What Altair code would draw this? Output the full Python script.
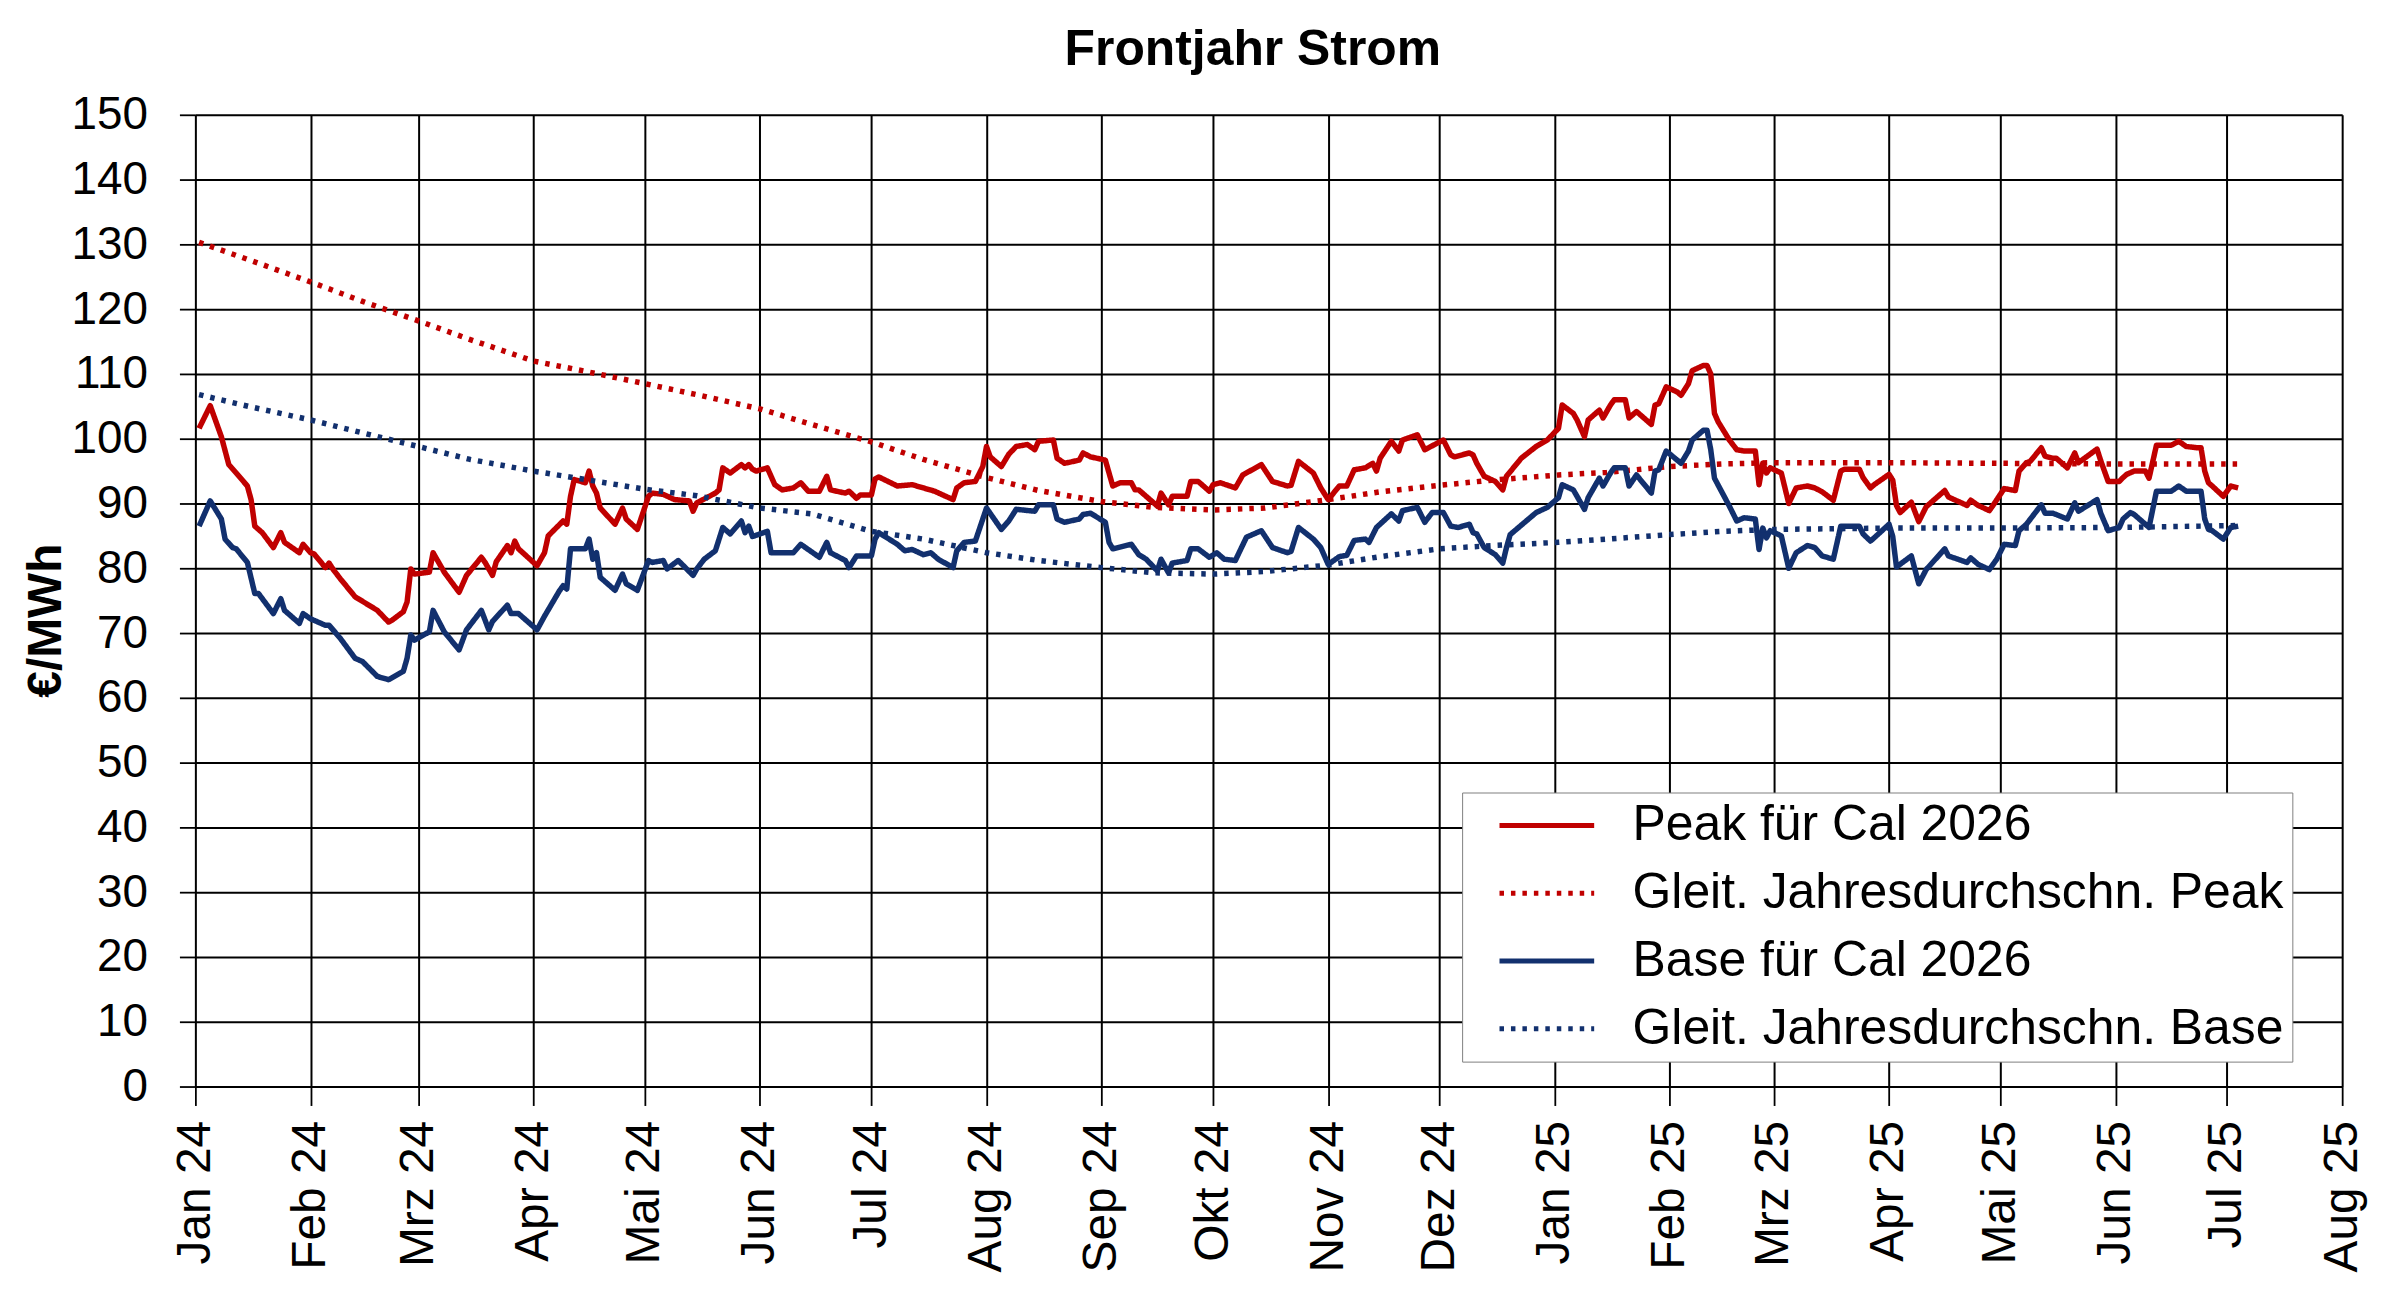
import json
import altair as alt
import pandas as pd

# ---------------- data ----------------
month_names = ["Jan", "Feb", "Mrz", "Apr", "Mai", "Jun", "Jul", "Aug", "Sep", "Okt", "Nov", "Dez"]

series_names = [
    "Peak für Cal 2026",
    "Gleit. Jahresdurchschn. Peak",
    "Base für Cal 2026",
    "Gleit. Jahresdurchschn. Base",
]

peak = [
    ("2024-01-02", 101.6), ("2024-01-05", 105.1), ("2024-01-08", 100.3), ("2024-01-10", 96.0),
    ("2024-01-12", 94.7), ("2024-01-15", 92.7), ("2024-01-16", 90.6), ("2024-01-17", 86.5),
    ("2024-01-19", 85.5), ("2024-01-22", 83.2), ("2024-01-24", 85.5), ("2024-01-25", 84.0),
    ("2024-01-29", 82.4), ("2024-01-30", 83.7), ("2024-02-01", 82.4), ("2024-02-02", 82.2),
    ("2024-02-05", 80.1), ("2024-02-06", 80.8), ("2024-02-07", 79.9), ("2024-02-09", 78.4),
    ("2024-02-13", 75.6), ("2024-02-19", 73.5), ("2024-02-22", 71.7), ("2024-02-23", 72.0),
    ("2024-02-26", 73.3), ("2024-02-27", 74.8), ("2024-02-28", 79.9), ("2024-02-29", 79.1),
    ("2024-03-04", 79.4), ("2024-03-05", 82.4), ("2024-03-08", 79.4), ("2024-03-12", 76.3),
    ("2024-03-14", 78.9), ("2024-03-18", 81.7), ("2024-03-19", 80.9), ("2024-03-21", 78.9),
    ("2024-03-22", 81.0), ("2024-03-25", 83.5), ("2024-03-26", 82.4), ("2024-03-27", 84.2),
    ("2024-03-28", 83.0), ("2024-04-02", 80.4), ("2024-04-04", 82.4), ("2024-04-05", 85.0),
    ("2024-04-09", 87.3), ("2024-04-10", 86.8), ("2024-04-11", 91.1), ("2024-04-12", 93.7),
    ("2024-04-15", 93.2), ("2024-04-16", 95.0), ("2024-04-17", 92.7), ("2024-04-18", 91.6),
    ("2024-04-19", 89.3), ("2024-04-23", 86.8), ("2024-04-25", 89.3), ("2024-04-26", 87.6),
    ("2024-04-29", 86.0), ("2024-05-02", 91.1), ("2024-05-03", 91.6), ("2024-05-06", 91.4),
    ("2024-05-09", 90.6), ("2024-05-13", 90.4), ("2024-05-14", 88.8), ("2024-05-15", 90.1),
    ("2024-05-20", 91.6), ("2024-05-21", 92.1), ("2024-05-22", 95.5), ("2024-05-24", 94.7),
    ("2024-05-27", 96.0), ("2024-05-28", 95.5), ("2024-05-29", 96.0), ("2024-05-30", 95.3),
    ("2024-05-31", 95.0), ("2024-06-03", 95.5), ("2024-06-05", 92.9), ("2024-06-07", 92.1),
    ("2024-06-10", 92.4), ("2024-06-12", 93.2), ("2024-06-14", 91.9), ("2024-06-17", 91.9),
    ("2024-06-19", 94.2), ("2024-06-20", 92.1), ("2024-06-24", 91.6), ("2024-06-25", 91.9),
    ("2024-06-27", 90.8), ("2024-06-28", 91.3), ("2024-07-01", 91.3), ("2024-07-02", 93.8),
    ("2024-07-03", 94.1), ("2024-07-08", 92.7), ("2024-07-12", 92.9), ("2024-07-15", 92.4),
    ("2024-07-18", 91.9), ("2024-07-23", 90.6), ("2024-07-24", 92.4), ("2024-07-26", 93.2),
    ("2024-07-29", 93.4), ("2024-07-31", 95.7), ("2024-08-01", 98.8), ("2024-08-02", 97.2),
    ("2024-08-05", 95.7), ("2024-08-07", 97.6), ("2024-08-09", 98.8), ("2024-08-12", 99.1),
    ("2024-08-14", 98.3), ("2024-08-15", 99.6), ("2024-08-19", 99.8), ("2024-08-20", 97.0),
    ("2024-08-22", 96.2), ("2024-08-26", 96.7), ("2024-08-27", 97.8), ("2024-08-29", 97.2),
    ("2024-09-02", 96.7), ("2024-09-03", 94.7), ("2024-09-04", 92.7), ("2024-09-06", 93.2),
    ("2024-09-09", 93.2), ("2024-09-10", 92.1), ("2024-09-11", 92.1), ("2024-09-13", 91.1),
    ("2024-09-16", 89.6), ("2024-09-17", 91.6), ("2024-09-19", 89.8), ("2024-09-20", 91.1),
    ("2024-09-24", 91.1), ("2024-09-25", 93.4), ("2024-09-27", 93.4), ("2024-09-30", 91.9),
    ("2024-10-01", 92.9), ("2024-10-03", 93.2), ("2024-10-07", 92.4), ("2024-10-09", 94.4),
    ("2024-10-14", 96.0), ("2024-10-17", 93.4), ("2024-10-21", 92.7), ("2024-10-22", 92.8),
    ("2024-10-24", 96.5), ("2024-10-28", 94.7), ("2024-10-30", 92.4), ("2024-11-01", 90.6),
    ("2024-11-04", 92.7), ("2024-11-06", 92.7), ("2024-11-08", 95.2), ("2024-11-11", 95.5),
    ("2024-11-13", 96.2), ("2024-11-14", 95.0), ("2024-11-15", 97.0), ("2024-11-18", 99.6),
    ("2024-11-20", 98.1), ("2024-11-21", 99.8), ("2024-11-25", 100.6), ("2024-11-27", 98.3),
    ("2024-12-02", 99.8), ("2024-12-04", 97.5), ("2024-12-05", 97.2), ("2024-12-09", 97.8),
    ("2024-12-10", 97.5), ("2024-12-11", 96.2), ("2024-12-13", 94.2), ("2024-12-16", 93.4),
    ("2024-12-18", 92.1), ("2024-12-19", 94.2), ("2024-12-23", 97.0), ("2024-12-27", 98.8),
    ("2024-12-30", 99.8), ("2025-01-02", 101.6), ("2025-01-03", 105.2), ("2025-01-06", 103.9),
    ("2025-01-07", 102.9), ("2025-01-09", 100.3), ("2025-01-10", 102.9), ("2025-01-13", 104.4),
    ("2025-01-14", 103.2), ("2025-01-16", 105.2), ("2025-01-17", 106.0), ("2025-01-20", 106.0),
    ("2025-01-21", 103.2), ("2025-01-23", 104.2), ("2025-01-27", 102.2), ("2025-01-28", 105.2),
    ("2025-01-29", 105.4), ("2025-01-31", 108.0), ("2025-02-03", 107.2), ("2025-02-04", 106.7),
    ("2025-02-06", 108.5), ("2025-02-07", 110.5), ("2025-02-10", 111.3), ("2025-02-11", 111.3),
    ("2025-02-12", 110.0), ("2025-02-13", 103.9), ("2025-02-14", 102.6), ("2025-02-17", 99.8),
    ("2025-02-19", 98.3), ("2025-02-21", 98.1), ("2025-02-24", 98.1), ("2025-02-25", 92.9),
    ("2025-02-26", 96.2), ("2025-02-27", 94.7), ("2025-02-28", 95.5), ("2025-03-03", 94.7),
    ("2025-03-05", 90.0), ("2025-03-07", 92.4), ("2025-03-10", 92.7), ("2025-03-12", 92.4),
    ("2025-03-14", 91.8), ("2025-03-17", 90.5), ("2025-03-19", 95.0), ("2025-03-20", 95.3),
    ("2025-03-24", 95.3), ("2025-03-25", 94.0), ("2025-03-27", 92.4), ("2025-03-28", 92.9),
    ("2025-04-01", 94.5), ("2025-04-02", 93.6), ("2025-04-03", 89.7), ("2025-04-04", 88.6),
    ("2025-04-07", 90.2), ("2025-04-09", 87.2), ("2025-04-11", 89.5), ("2025-04-16", 92.0),
    ("2025-04-17", 91.0), ("2025-04-22", 89.7), ("2025-04-23", 90.5), ("2025-04-25", 89.7),
    ("2025-04-28", 88.9), ("2025-04-29", 89.7), ("2025-05-02", 92.3), ("2025-05-05", 92.0),
    ("2025-05-06", 95.0), ("2025-05-08", 96.3), ("2025-05-09", 96.5), ("2025-05-12", 98.6),
    ("2025-05-13", 97.3), ("2025-05-15", 97.0), ("2025-05-16", 97.0), ("2025-05-19", 95.5),
    ("2025-05-21", 97.8), ("2025-05-22", 96.3), ("2025-05-27", 98.4), ("2025-05-28", 96.6),
    ("2025-05-30", 93.4), ("2025-06-02", 93.4), ("2025-06-03", 94.0), ("2025-06-04", 94.5),
    ("2025-06-06", 95.0), ("2025-06-09", 95.0), ("2025-06-10", 93.9), ("2025-06-12", 99.0),
    ("2025-06-16", 99.0), ("2025-06-18", 99.6), ("2025-06-20", 98.8), ("2025-06-23", 98.6),
    ("2025-06-24", 98.6), ("2025-06-25", 95.0), ("2025-06-26", 93.2), ("2025-06-27", 92.7),
    ("2025-06-30", 91.1), ("2025-07-02", 92.7), ("2025-07-04", 92.4),
]

base = [
    ("2024-01-02", 86.5), ("2024-01-05", 90.4), ("2024-01-08", 87.6), ("2024-01-09", 84.5),
    ("2024-01-11", 83.2), ("2024-01-12", 83.0), ("2024-01-15", 80.9), ("2024-01-17", 76.1),
    ("2024-01-18", 76.1), ("2024-01-22", 73.0), ("2024-01-24", 75.3), ("2024-01-25", 73.5),
    ("2024-01-29", 71.5), ("2024-01-30", 73.0), ("2024-02-01", 72.2), ("2024-02-05", 71.2),
    ("2024-02-06", 71.2), ("2024-02-09", 69.2), ("2024-02-13", 66.1), ("2024-02-15", 65.6),
    ("2024-02-19", 63.3), ("2024-02-22", 62.8), ("2024-02-26", 64.1), ("2024-02-27", 66.1),
    ("2024-02-28", 69.7), ("2024-02-29", 68.9), ("2024-03-04", 70.2), ("2024-03-05", 73.5),
    ("2024-03-08", 70.2), ("2024-03-12", 67.4), ("2024-03-14", 70.5), ("2024-03-18", 73.5),
    ("2024-03-20", 70.5), ("2024-03-21", 71.8), ("2024-03-25", 74.3), ("2024-03-26", 73.0),
    ("2024-03-28", 73.0), ("2024-04-02", 70.5), ("2024-04-04", 72.6), ("2024-04-08", 76.5),
    ("2024-04-09", 77.3), ("2024-04-10", 76.8), ("2024-04-11", 83.0), ("2024-04-15", 83.0),
    ("2024-04-16", 84.5), ("2024-04-17", 81.4), ("2024-04-18", 82.4), ("2024-04-19", 78.6),
    ("2024-04-23", 76.6), ("2024-04-25", 79.1), ("2024-04-26", 77.6), ("2024-04-29", 76.6),
    ("2024-05-02", 81.2), ("2024-05-03", 80.9), ("2024-05-06", 81.2), ("2024-05-07", 79.9),
    ("2024-05-10", 81.2), ("2024-05-14", 78.9), ("2024-05-15", 79.9), ("2024-05-17", 81.4),
    ("2024-05-20", 82.7), ("2024-05-22", 86.3), ("2024-05-24", 85.3), ("2024-05-27", 87.3),
    ("2024-05-28", 85.5), ("2024-05-29", 86.5), ("2024-05-30", 84.9), ("2024-06-03", 85.7),
    ("2024-06-04", 82.4), ("2024-06-07", 82.4), ("2024-06-10", 82.4), ("2024-06-12", 83.7),
    ("2024-06-17", 81.7), ("2024-06-19", 84.0), ("2024-06-20", 82.4), ("2024-06-24", 81.2),
    ("2024-06-25", 80.1), ("2024-06-27", 81.9), ("2024-07-01", 81.9), ("2024-07-02", 84.5),
    ("2024-07-03", 85.5), ("2024-07-08", 83.7), ("2024-07-10", 82.7), ("2024-07-12", 82.9),
    ("2024-07-15", 82.1), ("2024-07-17", 82.4), ("2024-07-19", 81.4), ("2024-07-23", 80.1),
    ("2024-07-24", 82.7), ("2024-07-26", 84.0), ("2024-07-29", 84.2), ("2024-08-01", 89.3),
    ("2024-08-05", 86.0), ("2024-08-07", 87.3), ("2024-08-09", 89.1), ("2024-08-14", 88.8),
    ("2024-08-15", 89.8), ("2024-08-19", 89.8), ("2024-08-20", 87.6), ("2024-08-22", 87.1),
    ("2024-08-26", 87.6), ("2024-08-27", 88.3), ("2024-08-29", 88.5), ("2024-09-02", 87.1),
    ("2024-09-03", 84.0), ("2024-09-04", 83.0), ("2024-09-09", 83.7), ("2024-09-11", 82.1),
    ("2024-09-13", 81.4), ("2024-09-16", 79.6), ("2024-09-17", 81.4), ("2024-09-19", 79.3),
    ("2024-09-20", 80.8), ("2024-09-24", 81.2), ("2024-09-25", 83.0), ("2024-09-27", 83.0),
    ("2024-09-30", 81.7), ("2024-10-02", 82.4), ("2024-10-04", 81.4), ("2024-10-07", 81.2),
    ("2024-10-10", 84.8), ("2024-10-14", 85.8), ("2024-10-17", 83.2), ("2024-10-21", 82.4),
    ("2024-10-22", 82.6), ("2024-10-24", 86.3), ("2024-10-28", 84.5), ("2024-10-30", 83.2),
    ("2024-11-01", 80.6), ("2024-11-04", 81.8), ("2024-11-06", 82.0), ("2024-11-08", 84.3),
    ("2024-11-11", 84.5), ("2024-11-12", 84.0), ("2024-11-14", 86.3), ("2024-11-18", 88.4),
    ("2024-11-20", 87.3), ("2024-11-21", 88.9), ("2024-11-25", 89.4), ("2024-11-27", 87.1),
    ("2024-11-29", 88.6), ("2024-12-02", 88.6), ("2024-12-04", 86.5), ("2024-12-06", 86.3),
    ("2024-12-09", 86.8), ("2024-12-10", 85.5), ("2024-12-11", 85.3), ("2024-12-13", 83.2),
    ("2024-12-16", 82.1), ("2024-12-18", 80.8), ("2024-12-19", 83.2), ("2024-12-20", 85.2),
    ("2024-12-27", 88.6), ("2024-12-30", 89.4), ("2025-01-02", 90.9), ("2025-01-03", 92.9),
    ("2025-01-06", 92.1), ("2025-01-07", 91.1), ("2025-01-09", 89.1), ("2025-01-10", 90.9),
    ("2025-01-13", 93.9), ("2025-01-14", 92.7), ("2025-01-16", 94.7), ("2025-01-17", 95.5),
    ("2025-01-20", 95.5), ("2025-01-21", 92.7), ("2025-01-23", 94.4), ("2025-01-27", 91.6),
    ("2025-01-28", 95.0), ("2025-01-29", 95.2), ("2025-01-31", 98.1), ("2025-02-04", 96.2),
    ("2025-02-06", 98.1), ("2025-02-07", 99.8), ("2025-02-10", 101.3), ("2025-02-11", 101.3),
    ("2025-02-12", 98.3), ("2025-02-13", 93.9), ("2025-02-17", 89.6), ("2025-02-19", 87.3),
    ("2025-02-21", 87.8), ("2025-02-24", 87.6), ("2025-02-25", 82.9), ("2025-02-26", 86.2),
    ("2025-02-27", 84.7), ("2025-02-28", 85.8), ("2025-03-03", 85.0), ("2025-03-05", 80.0),
    ("2025-03-07", 82.4), ("2025-03-10", 83.5), ("2025-03-12", 83.2), ("2025-03-14", 81.9),
    ("2025-03-17", 81.4), ("2025-03-19", 86.5), ("2025-03-20", 86.5), ("2025-03-24", 86.5),
    ("2025-03-25", 85.3), ("2025-03-27", 84.2), ("2025-03-28", 84.7), ("2025-04-01", 86.8),
    ("2025-04-02", 84.9), ("2025-04-03", 80.2), ("2025-04-07", 81.9), ("2025-04-09", 77.6),
    ("2025-04-11", 79.8), ("2025-04-16", 83.0), ("2025-04-17", 81.9), ("2025-04-22", 80.9),
    ("2025-04-23", 81.6), ("2025-04-25", 80.6), ("2025-04-28", 79.8), ("2025-04-30", 81.4),
    ("2025-05-02", 83.7), ("2025-05-05", 83.5), ("2025-05-06", 85.8), ("2025-05-08", 86.8),
    ("2025-05-12", 89.8), ("2025-05-13", 88.5), ("2025-05-15", 88.5), ("2025-05-16", 88.3),
    ("2025-05-19", 87.6), ("2025-05-21", 90.1), ("2025-05-22", 88.8), ("2025-05-27", 90.6),
    ("2025-05-28", 88.5), ("2025-05-30", 85.8), ("2025-06-02", 86.3), ("2025-06-03", 87.6),
    ("2025-06-05", 88.6), ("2025-06-06", 88.3), ("2025-06-10", 86.3), ("2025-06-12", 91.9),
    ("2025-06-16", 91.9), ("2025-06-18", 92.7), ("2025-06-20", 91.9), ("2025-06-24", 91.9),
    ("2025-06-25", 87.6), ("2025-06-26", 86.0), ("2025-06-27", 85.8), ("2025-06-30", 84.5),
    ("2025-07-02", 86.3), ("2025-07-04", 86.5),
]

peak_avg = [
    ("2024-01-02", 130.3), ("2024-01-16", 127.5), ("2024-02-01", 124.2), ("2024-02-15", 121.2),
    ("2024-03-01", 118.2), ("2024-03-15", 115.3), ("2024-04-01", 112.0), ("2024-04-15", 110.4),
    ("2024-05-01", 108.5), ("2024-05-15", 106.8), ("2024-06-01", 104.6), ("2024-06-15", 102.2),
    ("2024-07-01", 99.5), ("2024-07-15", 96.8), ("2024-08-01", 94.0), ("2024-08-15", 92.0),
    ("2024-09-01", 90.3), ("2024-09-15", 89.4), ("2024-10-01", 89.0), ("2024-10-15", 89.3),
    ("2024-11-01", 90.6), ("2024-11-15", 91.8), ("2024-12-01", 92.8), ("2024-12-15", 93.6),
    ("2025-01-02", 94.4), ("2025-01-15", 94.8), ("2025-02-01", 95.7), ("2025-02-15", 96.1),
    ("2025-03-01", 96.3), ("2025-04-01", 96.3), ("2025-05-01", 96.2), ("2025-06-02", 96.1),
    ("2025-07-04", 96.1),
]

base_avg = [
    ("2024-01-02", 106.8), ("2024-01-16", 104.9), ("2024-02-01", 102.9), ("2024-02-15", 100.9),
    ("2024-03-01", 98.8), ("2024-03-15", 96.8), ("2024-04-01", 95.0), ("2024-04-15", 93.7),
    ("2024-05-01", 92.2), ("2024-05-15", 91.2), ("2024-06-01", 89.3), ("2024-06-15", 88.4),
    ("2024-07-01", 85.7), ("2024-07-15", 84.5), ("2024-08-01", 82.4), ("2024-08-15", 81.2),
    ("2024-09-01", 80.1), ("2024-09-15", 79.3), ("2024-10-01", 79.1), ("2024-10-15", 79.5),
    ("2024-11-01", 80.5), ("2024-11-15", 81.8), ("2024-12-01", 83.0), ("2024-12-15", 83.5),
    ("2025-01-02", 84.0), ("2025-01-15", 84.5), ("2025-02-01", 85.2), ("2025-02-15", 85.7),
    ("2025-03-01", 86.0), ("2025-04-01", 86.2), ("2025-05-01", 86.2), ("2025-06-02", 86.3),
    ("2025-07-04", 86.6),
]

y_ticks = list(range(0, 151, 10))

# ---------------- build table ----------------
rows = []
for name, pts in zip(series_names, [peak, peak_avg, base, base_avg]):
    for d, v in pts:
        rows.append({"Datum": pd.Timestamp(d), "Wert": v, "Reihe": name})
df = pd.DataFrame(rows)

RED = "#C00000"
BLUE = "#12306E"
FONT = "Liberation Sans"

label_expr = (
    json.dumps(month_names)
    + "[month(datum.value)] + ' ' + timeFormat(datum.value, '%y')"
)

x_enc = alt.X(
    "Datum:T",
    scale=alt.Scale(
        domain=[alt.DateTime(year=2024, month=1, date=1), alt.DateTime(year=2025, month=8, date=1)],
        nice=False,
    ),
    axis=alt.Axis(
        title=None,
        tickCount={"interval": "month", "step": 1},
        labelExpr=label_expr,
        labelAngle=270,
        labelAlign="right",
        labelBaseline="middle",
        labelFontSize=48,
        labelFont=FONT,
        labelColor="black",
        labelPadding=15,
        labelOverlap=False,
        labelFlush=False,
        labelBound=False,
        tickSize=19,
        tickColor="black",
        tickWidth=1.8,
        domain=False,
        grid=True,
        gridColor="black",
        gridWidth=2,
        gridOpacity=1,
    ),
)

y_enc = alt.Y(
    "Wert:Q",
    scale=alt.Scale(domain=[0, 150], nice=False),
    axis=alt.Axis(
        title="€/MWh",
        titleFontSize=48,
        titleFont=FONT,
        titleFontWeight="bold",
        titleColor="black",
        titleAngle=270,
        titleAlign="center",
        titleBaseline="alphabetic",
        titleX=-135,
        titleY=507,
        values=y_ticks,
        labelFontSize=46,
        labelFont=FONT,
        labelColor="black",
        labelPadding=32,
        tickSize=16,
        tickColor="black",
        tickWidth=1.8,
        domain=False,
        grid=True,
        gridColor="black",
        gridWidth=2,
        gridOpacity=1,
    ),
)

legend = alt.Legend(
    title=None,
    orient="none",
    legendX=1271,
    legendY=680,
    symbolType="stroke",
    symbolSize=9025,
    symbolStrokeWidth=5,
    symbolOffset=27,
    labelOffset=36,
    labelFontSize=50,
    labelFont=FONT,
    labelColor="black",
    labelLimit=1000,
    clipHeight=50,
    rowPadding=18,
    padding=8,
    strokeColor="#808080",
    fillColor="white",
)

chart = (
    alt.Chart(df)
    .mark_line(strokeWidth=5.5, strokeJoin="round")
    .encode(
        x=x_enc,
        y=y_enc,
        color=alt.Color(
            "Reihe:N",
            scale=alt.Scale(domain=series_names, range=[RED, RED, BLUE, BLUE]),
            legend=legend,
        ),
        strokeDash=alt.StrokeDash(
            "Reihe:N",
            scale=alt.Scale(domain=series_names, range=[[1, 0], [4.5, 7], [1, 0], [4.5, 7]]),
            legend=legend,
        ),
        order=alt.Order("Datum:T"),
    )
    .properties(
        width=2154,
        height=975,
        autosize=alt.AutoSizeParams(type="none"),
        padding={"left": 188, "top": 105, "right": 50, "bottom": 200},
        title=alt.Title(
            "Frontjahr Strom",
            fontSize=50,
            font=FONT,
            fontWeight="bold",
            color="black",
            baseline="alphabetic",
            offset=23,
            dy=46,
            dx=-16,
        ),
    )
    .configure_view(stroke="black", strokeWidth=5)
    .configure_legend(strokeWidth=2)
    .configure(font=FONT, background="white")
)

chart.save("out.html", embed_options={"renderer": "svg", "actions": False})
